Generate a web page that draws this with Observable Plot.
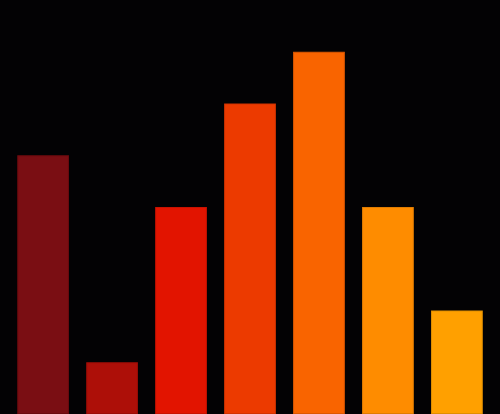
<!DOCTYPE html>
<html><head><meta charset="utf-8">
<script src="https://cdn.jsdelivr.net/npm/d3@7"></script>
<script src="https://cdn.jsdelivr.net/npm/@observablehq/plot@0.6"></script>
<style>html,body{margin:0;padding:0;background:#030204;overflow:hidden}</style>
</head><body><div id="chart"></div>
<script>
const categories = ["A","B","C","D","E","F","G"];
const values = [5, 1, 4, 6, 7, 4, 2];
const colors = ["#7a0e13","#ad0f08","#e21400","#ec3a00","#f96400","#fe8c00","#ffa000"];
const strokes = ["#6a0a0e","#9a0c06","#c81200","#d23300","#dc5800","#e07c00","#e08e00"];
const data = categories.map((c, i) => ({c, v: values[i], fill: colors[i], stroke: strokes[i]}));
const chart = Plot.plot({
  width: 500, height: 414,
  margin: 0,
  style: {background: "#030204"},
  x: {domain: categories, padding: 0.25, round: false, axis: null},
  y: {domain: [0, 8], axis: null},
  marks: [
    Plot.barY(data, {x: "c", y: "v", fill: d => d.fill, stroke: d => d.stroke, strokeWidth: 1, inset: 0.5})
  ]
});
document.getElementById("chart").appendChild(chart);
</script></body></html>
